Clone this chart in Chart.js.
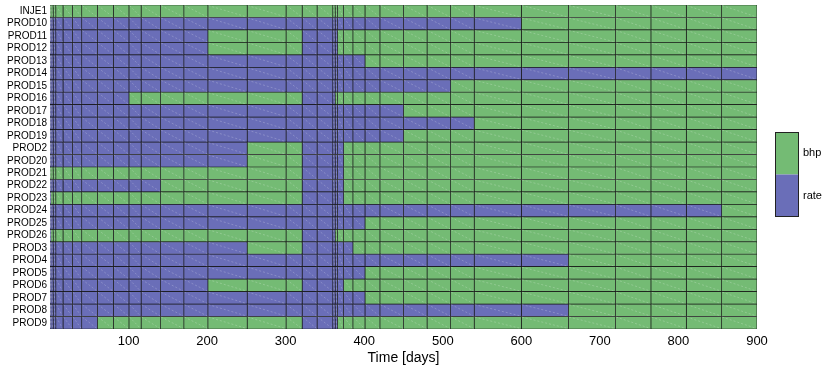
<!DOCTYPE html>
<html><head><meta charset="utf-8">
<script src="https://cdn.jsdelivr.net/npm/chart.js@4/dist/chart.umd.min.js"></script>
<style>html,body{margin:0;padding:0;background:#fff}</style>
</head><body>
<canvas id="c" width="823" height="369"></canvas>
<script>
// Wells (rows, top to bottom)
const wells = ['INJE1','PROD10','PROD11','PROD12','PROD13','PROD14','PROD15','PROD16','PROD17','PROD18','PROD19','PROD2','PROD20','PROD21','PROD22','PROD23','PROD24','PROD25','PROD26','PROD3','PROD4','PROD5','PROD6','PROD7','PROD8','PROD9'];
// Report step boundaries [days]
const stepTimes = [0,1,4,7.4,16.6,28.6,40.4,60.4,80.7,100.5,116,140.8,170.4,201,251,300.5,321,340,360,363,366,373.7,385.6,401,420,450,480,510,540,600,660,720,765,810,855,900];
// Control at t=0 for each well
const initialControl = ['bhp','rate','rate','rate','rate','rate','rate','rate','rate','rate','rate','rate','rate','bhp','rate','rate','rate','rate','rate','rate','rate','rate','rate','rate','rate','rate'];
// Times [days] where each well's control flips between rate and bhp
const switchTimes = [
  [], [600], [201,321,366], [201,321,366], [401], [], [510], [100.5,321,363],
  [450], [540], [450], [251,321,373.7], [251,321,373.7], [321,373.7], [140.8,321,373.7],
  [1,321,373.7], [855], [401], [1,321,363], [251,321,385.6], [660], [401],
  [201,321,373.7], [401], [660], [60.4,321,366]
];
const xTicks = [100,200,300,400,500,600,700,800,900];
const legendLabels = ['bhp','rate'];

const colors = {bhp:'#74bb74', rate:'#6a6eb8'};
const FONT = 'Liberation Sans, Arial, Helvetica, sans-serif';

function controlAt(k, t){
  let c = initialControl[k];
  for (const s of switchTimes[k]) if (t >= s) c = (c === 'bhp' ? 'rate' : 'bhp');
  return c;
}
const datasets = [];
for (let i = 0; i < stepTimes.length - 1; i++){
  const a = stepTimes[i], b = stepTimes[i+1], mid = (a + b) / 2;
  datasets.push({
    data: wells.map(() => [a, b]),
    backgroundColor: wells.map((w, k) => colors[controlAt(k, mid)]),
    borderColor: '#161616', borderWidth: 0.7, borderSkipped: false,
    grouped: false, barPercentage: 1, categoryPercentage: 1
  });
}

const diagPlugin = {
  id: 'diag',
  afterDatasetsDraw(chart){
    const ctx = chart.ctx;
    ctx.save();
    ctx.strokeStyle = 'rgba(255,255,255,0.35)';
    ctx.lineWidth = 0.6;
    ctx.setLineDash([2,2]);
    chart.data.datasets.forEach((ds, i) => {
      chart.getDatasetMeta(i).data.forEach(el => {
        const p = el.getProps(['x','y','base','height'], true);
        const l = Math.min(p.x, p.base), r = Math.max(p.x, p.base);
        ctx.beginPath();
        ctx.moveTo(l + 0.5, p.y - p.height/2 + 0.5);
        ctx.lineTo(r - 0.5, p.y + p.height/2 - 0.5);
        ctx.stroke();
      });
    });
    ctx.restore();
  }
};

const colorbarPlugin = {
  id: 'colorbar',
  afterDraw(chart){
    const ctx = chart.ctx, ca = chart.chartArea;
    const x0 = ca.right + 18, w = 24, top = 132, bot = 217, midY = (top + bot) / 2;
    ctx.save();
    ctx.fillStyle = colors.bhp; ctx.fillRect(x0, top, w, midY - top);
    ctx.fillStyle = colors.rate; ctx.fillRect(x0, midY, w, bot - midY);
    ctx.strokeStyle = '#222'; ctx.lineWidth = 1;
    ctx.strokeRect(x0 + 0.5, top + 0.5, w - 1, bot - top - 1);
    ctx.fillStyle = '#000'; ctx.font = '11px ' + FONT;
    ctx.textBaseline = 'middle'; ctx.textAlign = 'left';
    ctx.fillText(legendLabels[0], x0 + w + 4, (top + midY) / 2);
    ctx.fillText(legendLabels[1], x0 + w + 4, (midY + bot) / 2);
    ctx.restore();
  }
};

new Chart(document.getElementById('c'), {
  type: 'bar',
  data: { labels: wells, datasets },
  options: {
    indexAxis: 'y', responsive: false, animation: false,
    layout: { padding: { left: 4, right: 66, top: 5, bottom: 4 } },
    plugins: { legend: { display: false }, tooltip: { enabled: false } },
    scales: {
      x: {
        type: 'linear', min: 0, max: 900,
        grid: { display: false, drawTicks: false }, border: { display: false },
        afterBuildTicks: s => { s.ticks = xTicks.map(v => ({ value: v })); },
        ticks: { color: '#000', font: { family: FONT, size: 13, lineHeight: 1 }, maxRotation: 0, padding: 6 },
        title: { display: true, text: 'Time [days]', color: '#000', font: { family: FONT, size: 14, lineHeight: 1 }, padding: { top: -3, bottom: 0 } }
      },
      y: {
        type: 'category', grid: { display: false, drawTicks: false }, border: { display: false },
        ticks: { color: '#000', font: { family: FONT, size: 10, lineHeight: 0.1 }, padding: 3, autoSkip: false }
      }
    }
  },
  plugins: [diagPlugin, colorbarPlugin]
});
</script>
</body></html>
